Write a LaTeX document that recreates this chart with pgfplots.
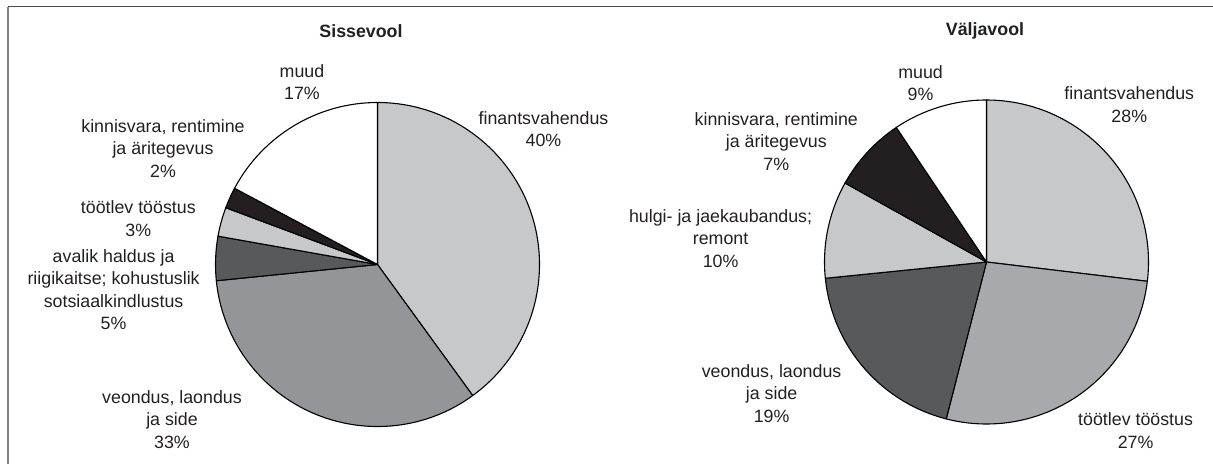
\documentclass[border=0pt]{standalone}
\usepackage{pgfplots}
\usepackage{pgfplotstable}
\pgfplotsset{compat=1.18}
\usepackage{fontspec}
\setmainfont{Liberation Sans}

\definecolor{slLight}{HTML}{C7C8CA}
\definecolor{slMid}{HTML}{939598}
\definecolor{slMid2}{HTML}{A7A9AC}
\definecolor{slDark}{HTML}{58595B}
\definecolor{slBlack}{HTML}{231F20}
\definecolor{txt}{HTML}{231F20}

% shares in percent, clockwise from 12 o'clock
\pgfplotstableread{
share tone
40.0 slLight
33.4 slMid
4.4  slDark
2.9  slLight
2.1  slBlack
17.2 white
}\sisse
\pgfplotstableread{
share tone
26.9 slLight
27.1 slMid2
19.4 slDark
9.7  slLight
7.5  slBlack
9.4  white
}\valja

% #1 table, #2 cx, #3 cy, #4 radius (axis units = pt)
\newcommand\piewedges[4]{%
  \def\acc{0}%
  \pgfplotstablegetrowsof{#1}%
  \pgfmathtruncatemacro\nrows{\pgfplotsretval-1}%
  \pgfplotsforeachungrouped \i in {0,...,\nrows}{%
    \pgfplotstablegetelem{\i}{share}\of{#1}\let\val\pgfplotsretval
    \pgfplotstablegetelem{\i}{tone}\of{#1}\let\tone\pgfplotsretval
    \pgfmathsetmacro\angA{90-3.6*\acc}%
    \pgfmathsetmacro\angB{90-3.6*(\acc+\val)}%
    \pgfmathsetmacro\acc{\acc+\val}%
    \edef\cmd{\noexpand\filldraw[fill=\tone,draw=black,line width=1.1pt,line join=round]
      (axis cs:#2,#3) -- ++(\angA:#4pt) arc[start angle=\angA,end angle=\angB,radius=#4pt] -- cycle;}%
    \cmd
  }%
}

\tikzset{lbl/.style={align=center,inner sep=0pt,text=txt,
  font=\fontsize{17.8}{22.5}\selectfont}}

\begin{document}
\begin{tikzpicture}
\useasboundingbox (0,0) rectangle (1213pt,464pt);
\begin{axis}[width=1213pt, height=464pt, scale only axis,
  xmin=0, xmax=1213, ymin=0, ymax=464, hide axis, clip=false]

  % frame (cropped: top and left only)
  \draw[color=black!70, line width=1pt] (axis cs:8,457) -- (axis cs:1213,457);
  \draw[color=black!50, line width=1.6pt] (axis cs:8,457) -- (axis cs:8,0);

  \piewedges{\sisse}{377.5}{199.5}{162}
  \piewedges{\valja}{986.5}{202}{162}

  \node[lbl, font=\fontsize{17.8}{22.5}\selectfont\bfseries] at (axis cs:361,433) {Sissevool};
  \node[lbl, font=\fontsize{17.8}{22.5}\selectfont\bfseries] at (axis cs:985,433) {Väljavool};

  \node[lbl] at (axis cs:302,382) {muud\\17\%};
  \node[lbl] at (axis cs:543.5,334.8) {finantsvahendus\\40\%};
  \node[lbl] at (axis cs:163,315.7) {kinnisvara, rentimine\\ja äritegevus\\2\%};
  \node[lbl] at (axis cs:138.3,245.3) {töötlev tööstus\\3\%};
  \node[lbl] at (axis cs:113.6,174.3) {avalik haldus ja\\riigikaitse; kohustuslik\\sotsiaalkindlustus\\5\%};
  \node[lbl] at (axis cs:172,44.8) {veondus, laondus\\ja side\\33\%};

  \node[lbl] at (axis cs:920.6,381) {muud\\9\%};
  \node[lbl] at (axis cs:1129.3,359.3) {finantsvahendus\\28\%};
  \node[lbl] at (axis cs:776.3,322.7) {kinnisvara, rentimine\\ja äritegevus\\7\%};
  \node[lbl] at (axis cs:720.6,225.7) {hulgi- ja jaekaubandus;\\remont\\10\%};
  \node[lbl] at (axis cs:771.6,70.7) {veondus, laondus\\ja side\\19\%};
  \node[lbl] at (axis cs:1135.6,33.5) {töötlev tööstus\\27\%};
\end{axis}
\end{tikzpicture}
\end{document}
